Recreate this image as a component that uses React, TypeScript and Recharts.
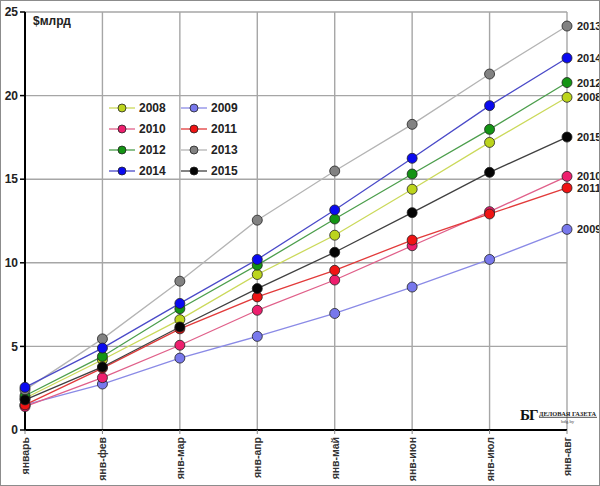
import React from 'react';
import { LineChart, Line, XAxis, YAxis, CartesianGrid, LabelList } from 'recharts';

const months = ['январь', 'янв-фев', 'янв-мар', 'янв-апр', 'янв-май', 'янв-июн', 'янв-июл', 'янв-авг'];
const yTicks = [0, 5, 10, 15, 20, 25];

const y2008 = [1.9, 4.2, 6.6, 9.3, 11.65, 14.4, 17.2, 19.9];
const y2009 = [1.5, 2.75, 4.3, 5.6, 6.97, 8.55, 10.2, 12.0];
const y2010 = [1.4, 3.13, 5.07, 7.16, 8.97, 11.02, 13.06, 15.17];
const y2011 = [1.5, 3.7, 6.05, 7.96, 9.55, 11.36, 12.92, 14.48];
const y2012 = [2.05, 4.4, 7.25, 9.86, 12.62, 15.31, 17.98, 20.78];
const y2013 = [2.4, 5.45, 8.9, 12.55, 15.49, 18.28, 21.29, 24.16];
const y2014 = [2.55, 4.9, 7.57, 10.2, 13.16, 16.25, 19.4, 22.25];
const y2015 = [1.8, 3.77, 6.16, 8.46, 10.63, 13.0, 15.41, 17.52];

const series: { [k: string]: number[] } = {
  '2008': y2008,
  '2009': y2009,
  '2010': y2010,
  '2011': y2011,
  '2012': y2012,
  '2013': y2013,
  '2014': y2014,
  '2015': y2015,
};
const years = Object.keys(series);

// line colour / marker fill
const style: { [k: string]: { line: string; dot: string } } = {
  '2008': { line: '#cbd95a', dot: '#bcd41c' },
  '2009': { line: '#8a8ae6', dot: '#7878ec' },
  '2010': { line: '#e0608a', dot: '#ee1f6e' },
  '2011': { line: '#e23a3a', dot: '#f01414' },
  '2012': { line: '#4c9e4c', dot: '#149414' },
  '2013': { line: '#b4b4b4', dot: '#828282' },
  '2014': { line: '#4a4ac8', dot: '#0a0af0' },
  '2015': { line: '#404040', dot: '#050505' },
};

const data = months.map((m, i) => {
  const row: any = { month: m };
  years.forEach((y) => (row[y] = series[y][i]));
  return row;
});

const legendRows = [
  ['2008', '2009'],
  ['2010', '2011'],
  ['2012', '2013'],
  ['2014', '2015'],
];

const font = '"Liberation Sans", Arial, sans-serif';
const serif = '"Liberation Serif", "DejaVu Serif", serif';

const MonthTick = ({ x, y, payload }: any) => (
  <text
    x={x}
    y={y}
    transform={`rotate(-90 ${x} ${y})`}
    textAnchor="end"
    dx={-1}
    dy={4}
    fontSize={10.5}
    fontWeight="bold"
    fill="#333"
    fontFamily={font}
  >
    {payload.value}
  </text>
);

const endLabel = (name: string) => (props: any) => {
  const { x, y, index } = props;
  if (index !== months.length - 1) return null;
  return (
    <text x={x + 10} y={y} dy={4} fontSize={11} fontWeight="bold" fill="#222" fontFamily={font}>
      {name}
    </text>
  );
};

function LegendBox() {
  return (
    <div style={{ position: 'absolute', left: 108, top: 97, width: 145, fontFamily: font }}>
      {legendRows.map((row) => (
        <div key={row[0]} style={{ display: 'flex', height: 21, alignItems: 'center' }}>
          {row.map((y) => (
            <div key={y} style={{ display: 'flex', alignItems: 'center', width: 72 }}>
              <svg width={28} height={12}>
                <line x1={1} y1={6} x2={27} y2={6} stroke={style[y].line} strokeWidth={1.3} />
                <circle cx={14} cy={6} r={4} fill={style[y].dot} stroke="#222" strokeWidth={0.8} />
              </svg>
              <span style={{ fontSize: 12, fontWeight: 'bold', color: '#222', marginLeft: 3 }}>{y}</span>
            </div>
          ))}
        </div>
      ))}
    </div>
  );
}

function Watermark() {
  return (
    <svg width={81} height={24} style={{ position: 'absolute', left: 518, top: 402 }} fontFamily={serif}>
      <text x={2} y={18} fontSize={15} fontWeight="bold" fill="#111" letterSpacing={-1}>
        БГ
      </text>
      <text x={21} y={13.5} fontSize={6.4} fontWeight="bold" fill="#222">
        ДЕЛОВАЯ ГАЗЕТА
      </text>
      <line x1={21} y1={15.3} x2={79} y2={15.3} stroke="#222" strokeWidth={0.8} />
      <text x={43} y={20.5} fontSize={4.8} fill="#444">
        bdg.by
      </text>
    </svg>
  );
}

export default function App() {
  return (
    <div style={{ position: 'absolute', left: 0, top: 0, width: 600, height: 486, background: '#fff' }}>
      <LineChart width={600} height={486} data={data} margin={{ top: 12, right: 33, bottom: 0, left: 0 }}>
        <CartesianGrid stroke="#a6a6a6" strokeWidth={1.4} />
        <XAxis
          dataKey="month"
          height={56}
          interval={0}
          axisLine={{ stroke: '#000', strokeWidth: 2 }}
          tickLine={{ stroke: '#888' }}
          tickSize={4}
          tick={<MonthTick />}
        />
        <YAxis
          width={25}
          domain={[0, 25]}
          ticks={yTicks}
          interval={0}
          axisLine={{ stroke: '#000', strokeWidth: 2 }}
          tickLine={{ stroke: '#000', strokeWidth: 1.5 }}
          tickSize={5}
          tickMargin={2}
          tick={{ fontSize: 12, fontWeight: 'bold', fill: '#222', fontFamily: font }}
        />
        {years.map((y) => (
          <Line
            key={y}
            dataKey={y}
            type="linear"
            stroke={style[y].line}
            strokeWidth={1.3}
            dot={{ r: 5, fill: style[y].dot, stroke: '#222', strokeWidth: 0.8, fillOpacity: 1 }}
            activeDot={false}
            isAnimationActive={false}
          >
            <LabelList dataKey={y} content={endLabel(y)} />
          </Line>
        ))}
      </LineChart>
      <div
        style={{
          position: 'absolute',
          left: 33,
          top: 14,
          fontFamily: font,
          fontSize: 12,
          fontWeight: 'bold',
          color: '#222',
        }}
      >
        $млрд
      </div>
      <LegendBox />
      <Watermark />
      <div
        style={{
          position: 'absolute',
          left: 0,
          top: 0,
          width: 600,
          height: 486,
          boxSizing: 'border-box',
          border: '1px solid #8c8c8c',
          pointerEvents: 'none',
        }}
      />
    </div>
  );
}
